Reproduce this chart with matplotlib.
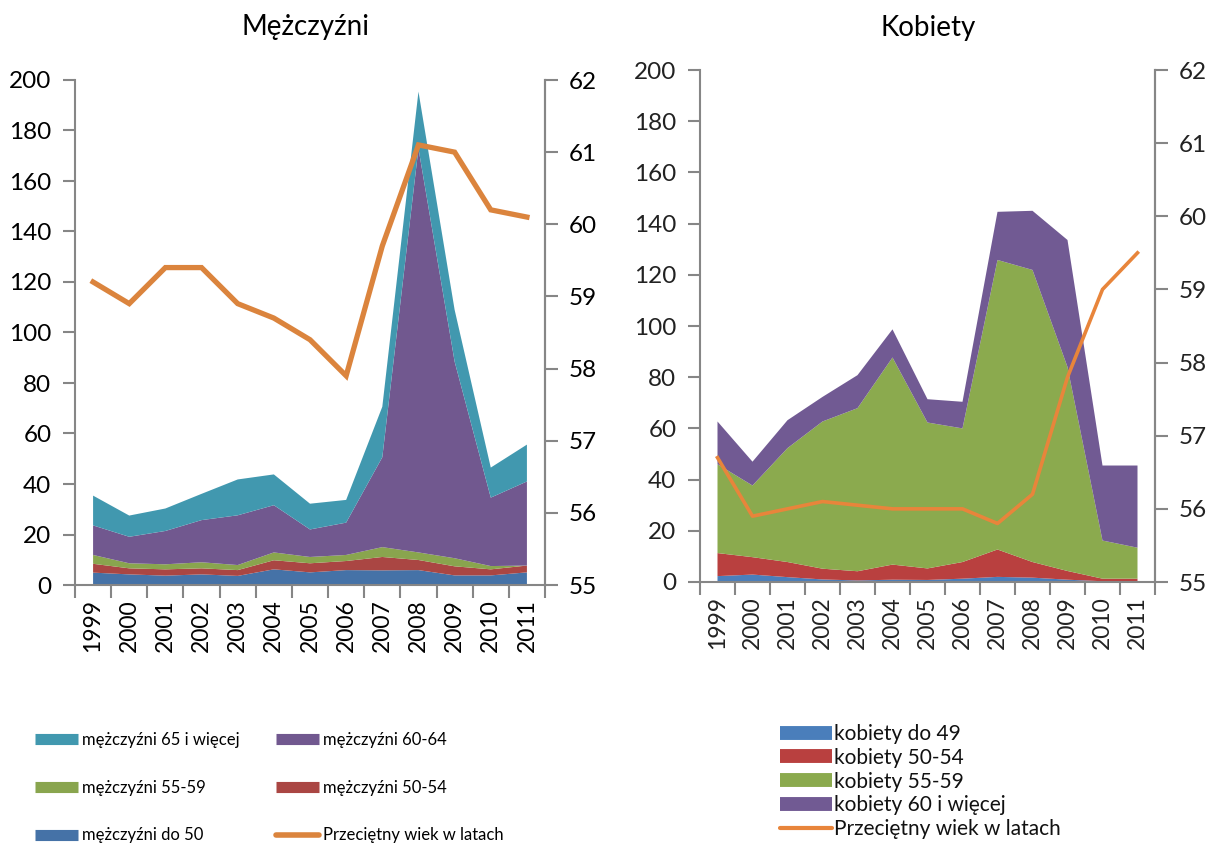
import matplotlib
matplotlib.use("Agg")
import matplotlib.pyplot as plt
from matplotlib.lines import Line2D
import numpy as np

plt.rcParams['font.family'] = ['Lato', 'DejaVu Sans']

years = ['1999', '2000', '2001', '2002', '2003', '2004', '2005', '2006',
         '2007', '2008', '2009', '2010', '2011']

# Mężczyźni (stacked)
men_do50 = [4.9, 4.2, 3.7, 4.2, 3.6, 6.2, 5.0, 5.9, 5.8, 5.9, 3.8, 3.8, 5.0]
men_50_54 = [3.5, 2.4, 2.5, 2.4, 2.3, 3.6, 3.6, 3.6, 5.3, 4.0, 3.6, 2.4, 2.7]
men_55_59 = [3.5, 2.0, 2.0, 2.4, 2.0, 3.1, 2.5, 2.4, 3.9, 3.0, 3.2, 1.3, 0.0]
men_60_64 = [11.7, 10.5, 13.2, 16.7, 19.7, 18.7, 10.9, 12.8, 35.6, 160.0, 77.9, 27.1, 33.3]
men_65 = [11.8, 8.4, 8.9, 10.4, 14.2, 12.2, 10.2, 9.0, 20.0, 22.5, 20.5, 11.9, 14.6]
men_age = [59.2, 58.9, 59.4, 59.4, 58.9, 58.7, 58.4, 57.9, 59.7, 61.1, 61.0, 60.2, 60.1]

# Kobiety (stacked)
women_do49 = [2.3, 2.9, 1.9, 1.0, 0.6, 0.9, 0.8, 1.3, 2.0, 1.7, 0.9, 0.3, 0.3]
women_50_54 = [9.0, 6.8, 5.9, 4.2, 3.6, 5.9, 4.5, 6.5, 10.7, 6.1, 3.4, 1.0, 1.0]
women_55_59 = [34.7, 28.0, 44.5, 57.5, 63.7, 80.9, 57.0, 52.2, 113.1, 114.1, 79.7, 14.9, 12.1]
women_60 = [16.7, 9.3, 10.9, 9.6, 12.9, 11.0, 9.1, 10.4, 18.8, 23.1, 49.6, 29.3, 32.1]
women_age = [56.7, 55.9, 56.0, 56.1, 56.05, 56.0, 56.0, 56.0, 55.8, 56.2, 57.8, 59.0, 59.5]

men_labels = ['mężczyźni do 50', 'mężczyźni 50-54', 'mężczyźni 55-59',
              'mężczyźni 60-64', 'mężczyźni 65 i więcej']
women_labels = ['kobiety do 49', 'kobiety 50-54', 'kobiety 55-59', 'kobiety 60 i więcej']
age_label = 'Przeciętny wiek w latach'

men_colors = ['#4572A7', '#AA4643', '#89A54E', '#71588F', '#4198AF']
women_colors = ['#4A7EBB', '#B9403F', '#8BAA4E', '#715A93']
orange = '#DB843D'
orange2 = '#E8853B'
spine_c = '#868686'

W, H = 1216, 846
fig = plt.figure(figsize=(W / 100, H / 100), dpi=100)


def px_axes(x0, y0, x1, y1):
    return fig.add_axes([x0 / W, 1 - y1 / H, (x1 - x0) / W, (y1 - y0) / H])


def style(ax, ax2, label_color):
    n = len(years)
    x = np.arange(n)
    ax.set_xlim(-0.5, n - 0.5)
    ax.set_ylim(0, 200)
    ax.set_yticks(range(0, 201, 20))
    ax2.set_ylim(55, 62)
    ax2.set_yticks(range(55, 63))
    ax.set_xticks(np.arange(-0.5, n, 1.0))
    ax.set_xticklabels([])
    ax.set_xticks(x, minor=True)
    ax.set_xticklabels(years, minor=True, rotation=90, fontsize=16.5, color=label_color)
    ax.tick_params(axis='x', which='major', length=9, width=1.5, color=spine_c, direction='out')
    ax.tick_params(axis='x', which='minor', length=0, pad=10)
    ax.tick_params(axis='y', length=9, width=1.5, color=spine_c, labelsize=17.5,
                   labelcolor=label_color, pad=8)
    ax2.tick_params(axis='y', length=9, width=1.5, color=spine_c, labelsize=17.5,
                    labelcolor=label_color, pad=8)
    for a in (ax, ax2):
        a.spines['top'].set_visible(False)
        for s in ('left', 'right', 'bottom'):
            a.spines[s].set_color(spine_c)
            a.spines[s].set_linewidth(1.5)
    ax2.spines['left'].set_visible(False)
    ax2.spines['bottom'].set_visible(False)


# ---- Left: Mężczyźni
axL = px_axes(75, 80, 545, 585)
axL2 = axL.twinx()
xs = np.arange(len(years))
axL.stackplot(xs, men_do50, men_50_54, men_55_59, men_60_64, men_65,
              colors=men_colors, labels=men_labels, linewidth=0)
axL2.plot(xs, men_age, color=orange, lw=3.8, solid_joinstyle='miter', label=age_label)
style(axL, axL2, 'black')
fig.text(305 / W, 1 - 27 / H, 'Mężczyźni', ha='center', va='center', fontsize=20)

# ---- Right: Kobiety
axR = px_axes(700, 70, 1155, 582)
axR2 = axR.twinx()
axR.stackplot(xs, women_do49, women_50_54, women_55_59, women_60,
              colors=women_colors, labels=women_labels, linewidth=0)
axR2.plot(xs, women_age, color=orange2, lw=2.6, label=age_label)
style(axR, axR2, '#222222')
fig.text(928 / W, 1 - 28 / H, 'Kobiety', ha='center', va='center', fontsize=20)

# ---- Legends
def bar_handle(c, lw):
    return Line2D([0], [0], color=c, lw=lw, solid_capstyle='butt')

hL = [bar_handle(men_colors[4], 8), bar_handle(men_colors[2], 8), bar_handle(men_colors[0], 8),
      bar_handle(men_colors[3], 8), bar_handle(men_colors[1], 8),
      Line2D([0], [0], color=orange, lw=4, solid_capstyle='round')]
lL = [men_labels[4], men_labels[2], men_labels[0], men_labels[3], men_labels[1], age_label]
legL = fig.legend(hL, lL, ncol=2, loc='upper left', bbox_to_anchor=(35 / W, 1 - 732 / H),
                  frameon=False, fontsize=12, handlelength=2.6, handletextpad=0.25,
                  labelspacing=1.9, columnspacing=2.15, borderaxespad=0, borderpad=0)

hR = [bar_handle(c, 10) for c in women_colors] + \
     [Line2D([0], [0], color=orange2, lw=3, solid_capstyle='round')]
lR = women_labels + [age_label]
legR = fig.legend(hR, lR, loc='upper left', bbox_to_anchor=(780 / W, 1 - 724 / H),
                  frameon=False, fontsize=15, handlelength=2.5, handletextpad=0.1,
                  labelspacing=0.18, borderaxespad=0, borderpad=0)
for t in legR.get_texts():
    t.set_color('#111111')

fig.savefig('out.png', dpi=100)
